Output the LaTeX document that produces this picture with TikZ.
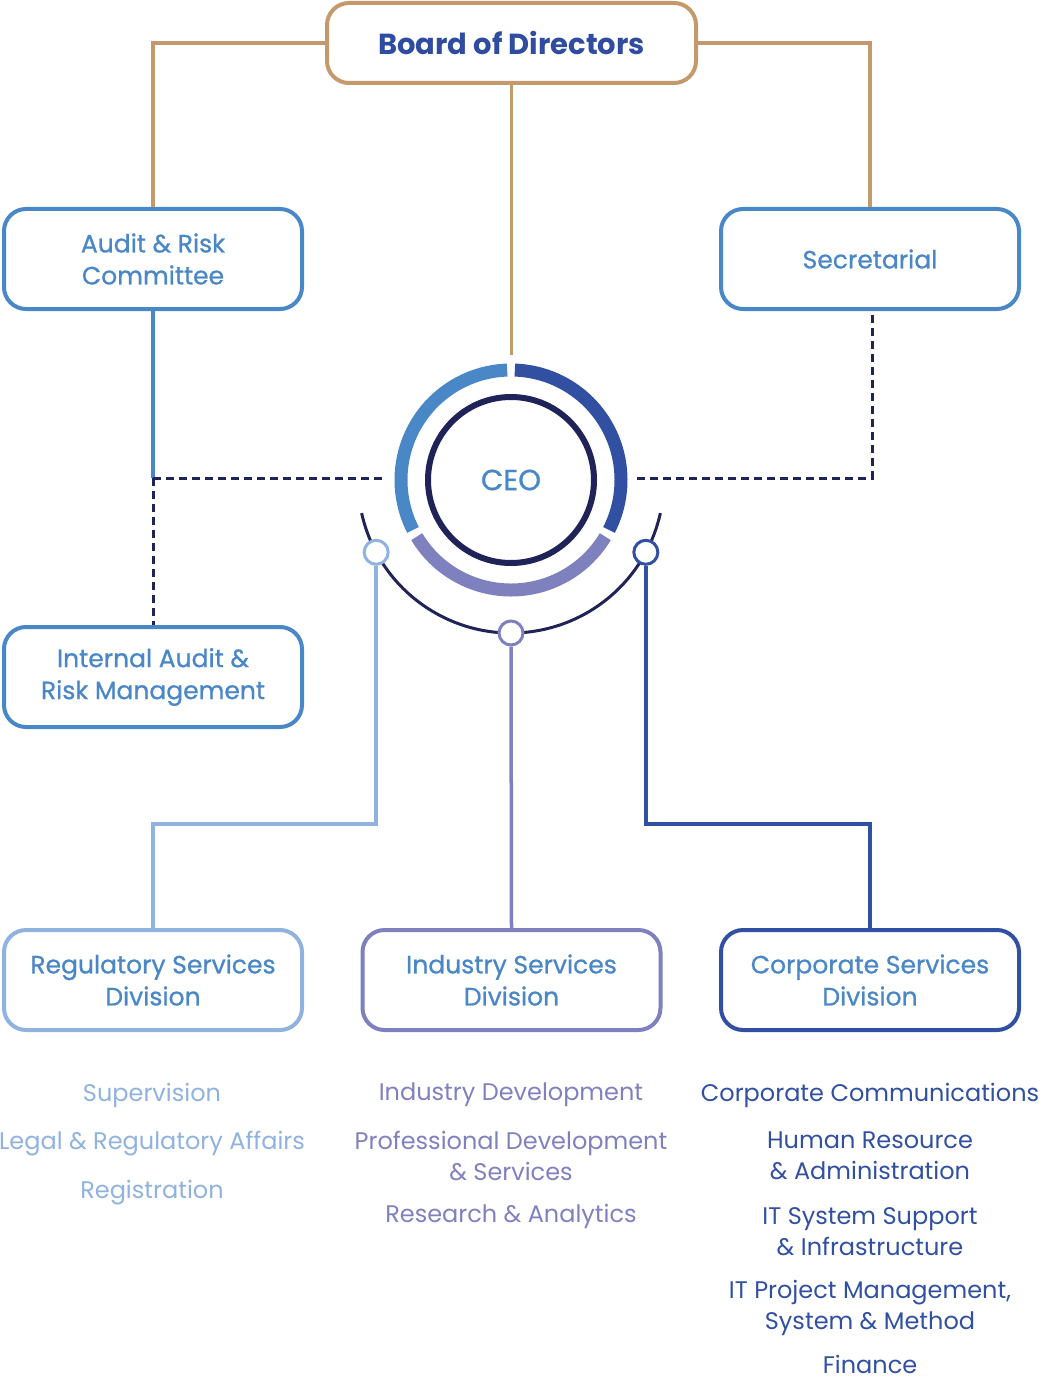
\documentclass[tikz,border=0pt]{standalone}
\usepackage{fontspec}
\setmainfont{Poppins}
\newfontfamily\medfont{Poppins}[FakeBold=0.8]
\definecolor{tan}{HTML}{C49A6C}
\definecolor{navy}{HTML}{1F2357}
\definecolor{midblue}{HTML}{4A87C6}
\definecolor{darkblue}{HTML}{3150A1}
\definecolor{lightblue}{HTML}{90B2DF}
\definecolor{purplec}{HTML}{7F81BF}
\definecolor{boardtext}{HTML}{2F4CA0}
\begin{document}
\begin{tikzpicture}[x=1pt,y=1pt,
  box/.style={draw, line width=4pt, rounded corners=22pt, minimum width=298pt, minimum height=100pt, align=center, fill=white, text=midblue, font=\medfont\fontsize{25}{32}\selectfont, inner sep=0pt},
  item/.style={align=center, font=\fontsize{24}{31}\selectfont, inner sep=0pt},
  dashline/.style={navy, line width=3pt, dash pattern=on 8pt off 5pt},
  ring/.style={line width=13pt},
  knob/.style={circle, draw, line width=3pt, fill=white, minimum size=24pt, inner sep=0pt}
]
\useasboundingbox (0,0) rectangle (1041,-1380);
% Board
\node[box, draw=tan, minimum width=369pt, minimum height=80pt, text=boardtext, font=\fontsize{29}{32}\selectfont\bfseries] (board) at (511.5,-43) {Board of Directors};
\node[box, draw=midblue] (arc) at (153,-259) {Audit \& Risk\\Committee};
\node[box, draw=midblue] (sec) at (870,-259) {Secretarial};
\node[box, draw=midblue] (ia) at (153,-677) {Internal Audit \&\\Risk Management};
\node[box, draw=lightblue] (rsd) at (153,-980) {Regulatory Services\\Division};
\node[box, draw=purplec] (isd) at (511.5,-980) {Industry Services\\Division};
\node[box, draw=darkblue] (csd) at (870,-980) {Corporate Services\\Division};

% CEO
\node[circle, draw=navy, line width=6pt, minimum size=166pt, inner sep=0pt, text=midblue, font=\medfont\fontsize{29}{32}\selectfont] (ceo) at (511,-480) {CEO};
\draw[ring, midblue] ([shift={(92:110)}]ceo.center) arc[start angle=92, end angle=207, radius=110];
\draw[ring, darkblue] ([shift={(88:110)}]ceo.center) arc[start angle=88, end angle=-27, radius=110];
\draw[ring, purplec] ([shift={(211:110)}]ceo.center) arc[start angle=211, end angle=329, radius=110];
\draw[navy, line width=3pt] ([shift={(192.5:153)}]ceo.center) arc[start angle=192.5, end angle=347.5, radius=153];
\node[knob, draw=lightblue] (kl) at ([shift={(208.2:153)}]ceo.center) {};
\node[knob, draw=purplec] (km) at ([shift={(270:153)}]ceo.center) {};
\node[knob, draw=darkblue] (kr) at ([shift={(331.8:153)}]ceo.center) {};

% Tan connectors
\coordinate (ceotop) at (511.5,-355);
\draw[tan, line width=3.5pt] (board.west) -| (arc.north);
\draw[tan, line width=3.5pt] (board.east) -| (sec.north);
\draw[tan, line width=3.5pt] (board.south) -- (ceotop);

% Audit / dashed connectors
\coordinate (jl) at (153,-478);
\coordinate (cl) at (385,-478);
\coordinate (cr) at (637,-478);
\coordinate (jr) at (872,-478);
\draw[midblue, line width=3.5pt] (arc.south) -- (jl);
\draw[dashline] (jl) -- (cl);
\draw[dashline] (jl) -- (ia.north);
\draw[dashline] (cr) -- (jr) -- (sec.south -| jr);

% Division connectors
\coordinate (by) at (0,-824);
\draw[lightblue, line width=3.5pt] (kl.south) -- (kl.south |- by) -| (rsd.north);
\draw[purplec, line width=3.5pt] (km.south) -- (isd.north);
\draw[darkblue, line width=3.5pt] (kr.south) -- (kr.south |- by) -| (csd.north);

% Lists
\begin{scope}[every node/.style={item}]
\node[text=lightblue] (l1) at (152,-1095) {Supervision};
\node[text=lightblue] (l2) at (152,-1144) {Legal \& Regulatory Affairs};
\node[text=lightblue] (l3) at (152,-1193) {Registration};
\node[text=purplec] (m1) at (511,-1095) {Industry Development};
\node[text=purplec] (m2) at (511,-1155.5) {Professional Development\\\& Services};
\node[text=purplec] (m3) at (511,-1216) {Research \& Analytics};
\node[text=darkblue] (r1) at (870,-1095) {Corporate Communications};
\node[text=darkblue] (r2) at (870,-1155.5) {Human Resource\\\& Administration};
\node[text=darkblue] (r3) at (870,-1231.5) {IT System Support\\\& Infrastructure};
\node[text=darkblue] (r4) at (870,-1307.5) {IT Project Management,\\System \& Method};
\node[text=darkblue] (r5) at (870,-1364) {Finance};
\end{scope}
\end{tikzpicture}
\end{document}
